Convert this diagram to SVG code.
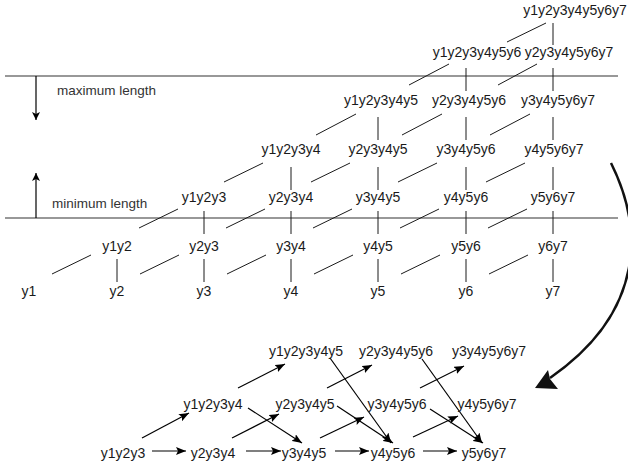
<svg xmlns="http://www.w3.org/2000/svg" width="628" height="466" viewBox="0 0 628 466">
<defs>
<style>
text{font-family:"Liberation Sans",Arial,sans-serif;font-size:14px;fill:#1a1a1a;text-anchor:middle}
text.lbl{font-size:13.5px;text-anchor:start;fill:#333}
.ln{stroke:#1a1a1a;stroke-width:1;fill:none}
.hz{stroke:#333;stroke-width:1.2;fill:none}
.ar{stroke:#000;stroke-width:1.2;fill:none;marker-end:url(#ah)}
.sa{stroke:#000;stroke-width:1.2;fill:none;marker-end:url(#sm)}
</style>
<marker id="ah" viewBox="0 0 10 8" refX="10" refY="4" markerWidth="10" markerHeight="8" markerUnits="userSpaceOnUse" orient="auto">
<path d="M0,0 L10,4 L0,8 L2,4 z" fill="#000"/>
</marker>
<marker id="sm" viewBox="0 0 8 8" refX="8" refY="4" markerWidth="8" markerHeight="8" markerUnits="userSpaceOnUse" orient="auto">
<path d="M0,0 L8,4 L0,8 L2,4 z" fill="#000"/>
</marker>
</defs>
<rect width="628" height="466" fill="#fff"/>

<g id="guides">
<line class="hz" x1="5" y1="76" x2="618" y2="76"/>
<line class="hz" x1="5" y1="218" x2="618" y2="218"/>
<line class="sa" x1="36" y1="76" x2="36" y2="120"/>
<line class="sa" x1="36" y1="218" x2="36" y2="173"/>
<text class="lbl" x="57" y="95">maximum length</text>
<text class="lbl" x="52" y="208">minimum length</text>
</g>

<g id="connectors">
<g class="ln">
<line x1="117" y1="259" x2="117" y2="282"/><line x1="204" y1="259" x2="204" y2="282"/><line x1="291" y1="259" x2="291" y2="282"/><line x1="378" y1="259" x2="378" y2="282"/><line x1="466" y1="259" x2="466" y2="282"/><line x1="553" y1="259" x2="553" y2="282"/>
<line x1="204" y1="211" x2="204" y2="234"/><line x1="291" y1="211" x2="291" y2="234"/><line x1="378" y1="211" x2="378" y2="234"/><line x1="466" y1="211" x2="466" y2="234"/><line x1="553" y1="211" x2="553" y2="234"/>
<line x1="291" y1="167" x2="291" y2="190"/><line x1="378" y1="167" x2="378" y2="190"/><line x1="466" y1="167" x2="466" y2="190"/><line x1="553" y1="167" x2="553" y2="190"/>
<line x1="378" y1="117" x2="378" y2="140"/><line x1="466" y1="117" x2="466" y2="140"/><line x1="553" y1="117" x2="553" y2="140"/>
<line x1="466" y1="68" x2="466" y2="91"/><line x1="553" y1="68" x2="553" y2="91"/>
<line x1="553" y1="23" x2="553" y2="45"/>
<line x1="52" y1="274" x2="91" y2="255"/><line x1="140" y1="274" x2="179" y2="255"/><line x1="227" y1="274" x2="266" y2="255"/><line x1="314" y1="274" x2="353" y2="255"/><line x1="401" y1="274" x2="440" y2="255"/><line x1="489" y1="274" x2="528" y2="255"/>
<line x1="139" y1="228" x2="178" y2="209"/><line x1="226" y1="228" x2="265" y2="209"/><line x1="313" y1="228" x2="352" y2="209"/><line x1="400" y1="228" x2="439" y2="209"/><line x1="488" y1="228" x2="527" y2="209"/>
<line x1="224" y1="182" x2="263" y2="163"/><line x1="311" y1="182" x2="350" y2="163"/><line x1="398" y1="182" x2="437" y2="163"/><line x1="486" y1="182" x2="525" y2="163"/>
<line x1="316" y1="135" x2="356" y2="114"/><line x1="402" y1="135" x2="442" y2="114"/><line x1="490" y1="135" x2="530" y2="114"/>
<line x1="409" y1="85" x2="449" y2="64"/><line x1="498" y1="85" x2="537" y2="64"/>
<line x1="507" y1="42" x2="546" y2="23"/>
</g>
<path d="M611,163 C642,225 648,310 550,378" stroke="#111" stroke-width="2.5" fill="none"/>
<polygon points="535,388 548,370 550,379 558,389" fill="#111"/>
<line class="ar" x1="152" y1="451" x2="186" y2="451"/>
<line class="ar" x1="246" y1="451" x2="281" y2="451"/>
<line class="ar" x1="335" y1="451" x2="369" y2="451"/>
<line class="ar" x1="423" y1="451" x2="457" y2="451"/>
<line class="ar" x1="142" y1="438" x2="189" y2="413"/>
<line class="ar" x1="238" y1="388" x2="285" y2="364"/>
<line class="ar" x1="232" y1="438" x2="279" y2="414"/>
<line class="ar" x1="327" y1="388" x2="372" y2="365"/>
<line class="ar" x1="320" y1="438" x2="364" y2="417"/>
<line class="ar" x1="420" y1="388" x2="464" y2="366"/>
<line class="ar" x1="413" y1="437" x2="458" y2="416"/>
<line class="ar" x1="248" y1="408" x2="302" y2="443"/>
<line class="ar" x1="337" y1="406" x2="393" y2="443"/>
<line class="ar" x1="330" y1="358" x2="391" y2="443"/>
<line class="ar" x1="430" y1="409" x2="483" y2="443"/>
<line class="ar" x1="422" y1="359" x2="482" y2="443"/>
</g>

<g id="n_y1"><text x="29" y="296">y1</text></g>
<g id="n_y2"><text x="117" y="296">y2</text></g>
<g id="n_y3"><text x="204" y="296">y3</text></g>
<g id="n_y4"><text x="291" y="296">y4</text></g>
<g id="n_y5"><text x="378" y="296">y5</text></g>
<g id="n_y6"><text x="466" y="296">y6</text></g>
<g id="n_y7"><text x="553" y="296">y7</text></g>
<g id="n_y1y2"><text x="117" y="251">y1y2</text></g>
<g id="n_y2y3"><text x="204" y="251">y2y3</text></g>
<g id="n_y3y4"><text x="291" y="251">y3y4</text></g>
<g id="n_y4y5"><text x="378" y="251">y4y5</text></g>
<g id="n_y5y6"><text x="466" y="251">y5y6</text></g>
<g id="n_y6y7"><text x="553" y="251">y6y7</text></g>
<g id="n_y1y2y3"><text x="204" y="202">y1y2y3</text></g>
<g id="n_y2y3y4"><text x="291" y="202">y2y3y4</text></g>
<g id="n_y3y4y5"><text x="378" y="202">y3y4y5</text></g>
<g id="n_y4y5y6"><text x="466" y="202">y4y5y6</text></g>
<g id="n_y5y6y7"><text x="553" y="202">y5y6y7</text></g>
<g id="n_y1y2y3y4"><text x="291" y="154">y1y2y3y4</text></g>
<g id="n_y2y3y4y5"><text x="378" y="154">y2y3y4y5</text></g>
<g id="n_y3y4y5y6"><text x="466" y="154">y3y4y5y6</text></g>
<g id="n_y4y5y6y7"><text x="554" y="154">y4y5y6y7</text></g>
<g id="n_y1y2y3y4y5"><text x="381" y="105">y1y2y3y4y5</text></g>
<g id="n_y2y3y4y5y6"><text x="469" y="105">y2y3y4y5y6</text></g>
<g id="n_y3y4y5y6y7"><text x="558" y="105">y3y4y5y6y7</text></g>
<g id="n_y1y2y3y4y5y6"><text x="477" y="57">y1y2y3y4y5y6</text></g>
<g id="n_y2y3y4y5y6y7"><text x="569" y="57">y2y3y4y5y6y7</text></g>
<g id="n_y1y2y3y4y5y6y7"><text x="575" y="15">y1y2y3y4y5y6y7</text></g>

<g id="b_y1y2y3"><text x="123" y="458">y1y2y3</text></g>
<g id="b_y2y3y4"><text x="213" y="458">y2y3y4</text></g>
<g id="b_y3y4y5"><text x="304" y="458">y3y4y5</text></g>
<g id="b_y4y5y6"><text x="393" y="458">y4y5y6</text></g>
<g id="b_y5y6y7"><text x="484" y="458">y5y6y7</text></g>
<g id="b_y1y2y3y4"><text x="213" y="409">y1y2y3y4</text></g>
<g id="b_y2y3y4y5"><text x="305" y="409">y2y3y4y5</text></g>
<g id="b_y3y4y5y6"><text x="397" y="409">y3y4y5y6</text></g>
<g id="b_y4y5y6y7"><text x="487" y="409">y4y5y6y7</text></g>
<g id="b_y1y2y3y4y5"><text x="306" y="356">y1y2y3y4y5</text></g>
<g id="b_y2y3y4y5y6"><text x="396" y="356">y2y3y4y5y6</text></g>
<g id="b_y3y4y5y6y7"><text x="489" y="356">y3y4y5y6y7</text></g>
</svg>
